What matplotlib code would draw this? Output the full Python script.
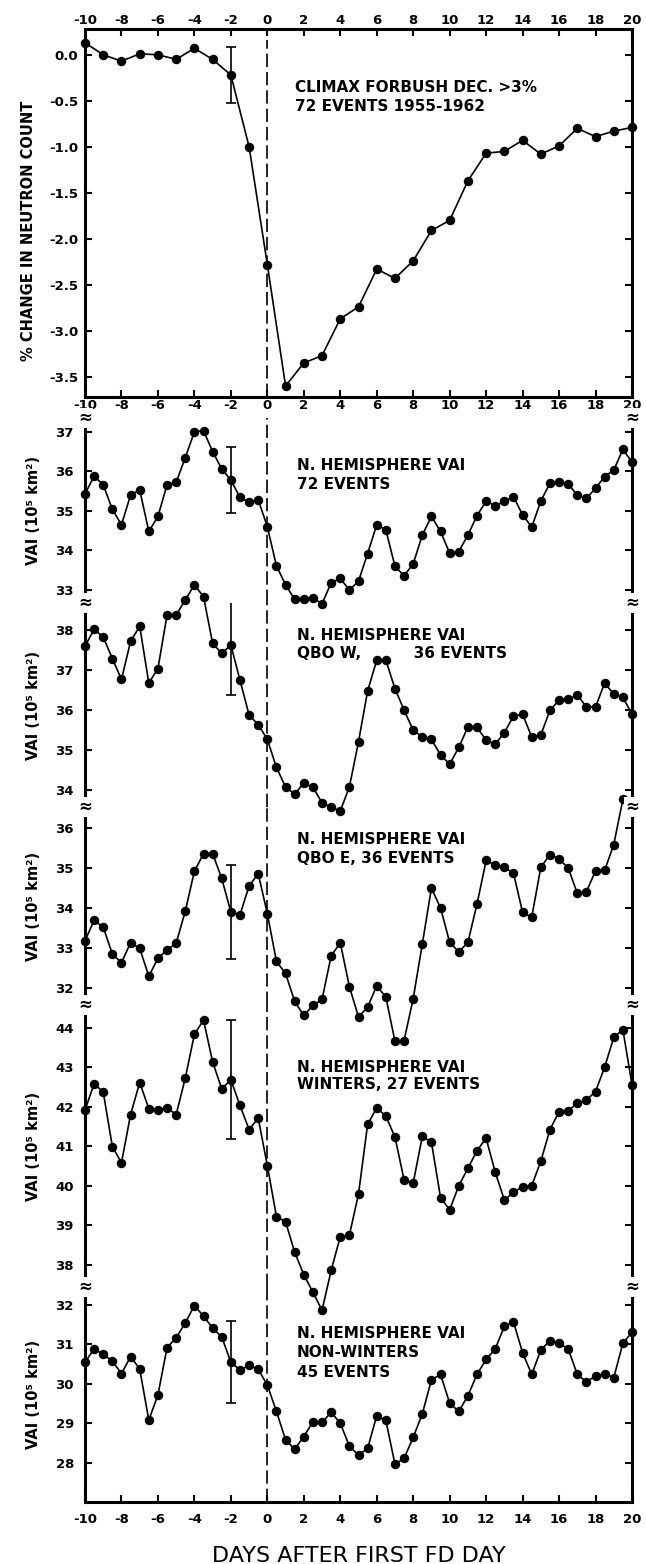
import matplotlib
matplotlib.use("Agg")
import matplotlib.pyplot as plt
import numpy as np

plt.rcParams['font.family'] = ['DejaVu Sans']
plt.rcParams['axes.unicode_minus'] = False

# ---------------- data ----------------
fd_days = list(range(-10, 21))
forbush = [0.13, 0.0, -0.07, 0.01, 0.0, -0.05, 0.07, -0.05, -0.22, -1.0,
           -2.28, -3.60, -3.35, -3.27, -2.87, -2.74, -2.33, -2.43, -2.24, -1.91,
           -1.80, -1.37, -1.07, -1.05, -0.93, -1.08, -0.99, -0.80, -0.89, -0.83, -0.79]
forbush_err = 0.30

half_days = [k / 2 for k in range(-20, 41)]

vai_all = [35.43, 35.88, 35.66, 35.04, 34.65, 35.40, 35.53, 34.48, 34.86, 35.66,
           35.72, 36.35, 37.00, 37.03, 36.50, 36.06, 35.78, 35.34, 35.22, 35.28, 34.60,
           33.61, 33.13, 32.76, 32.76, 32.80, 32.65, 33.18, 33.29, 33.00, 33.22,
           33.92, 34.65, 34.52, 33.60, 33.36, 33.66, 34.39, 34.86, 34.48, 33.93,
           33.97, 34.39, 34.88, 35.25, 35.13, 35.24, 35.36, 34.90, 34.59, 35.25,
           35.70, 35.74, 35.68, 35.40, 35.32, 35.57, 35.87, 36.03, 36.56, 36.23]
vai_qbow = [37.60, 38.02, 37.83, 37.29, 36.77, 37.72, 38.10, 36.68, 37.04, 38.38,
            38.38, 38.76, 39.13, 38.84, 37.67, 37.42, 37.63, 36.75, 35.88, 35.64, 35.27,
            34.57, 34.08, 33.90, 34.18, 34.07, 33.69, 33.57, 33.48, 34.08, 35.21,
            36.48, 37.25, 37.25, 36.54, 36.00, 35.50, 35.33, 35.27, 34.88, 34.65,
            35.07, 35.58, 35.57, 35.25, 35.15, 35.44, 35.85, 35.90, 35.33, 35.38,
            36.00, 36.25, 36.27, 36.38, 36.08, 36.08, 36.68, 36.40, 36.32, 35.90]
vai_qboe = [33.18, 33.69, 33.52, 32.85, 32.63, 33.13, 32.99, 32.29, 32.74, 32.95,
            33.12, 33.92, 34.92, 35.36, 35.36, 34.74, 33.90, 33.83, 34.55, 34.86, 33.86,
            32.66, 32.36, 31.66, 31.31, 31.56, 31.71, 32.80, 33.13, 32.03, 31.27,
            31.52, 32.05, 31.77, 30.66, 30.68, 31.73, 33.10, 34.50, 34.00, 33.14,
            32.90, 33.14, 34.10, 35.19, 35.08, 35.02, 34.87, 33.89, 33.77, 35.02,
            35.34, 35.23, 35.00, 34.37, 34.41, 34.93, 34.94, 35.59, 36.72, 36.45]
vai_winter = [41.91, 42.58, 42.37, 40.99, 40.58, 41.80, 42.61, 41.95, 41.91, 41.97,
              41.80, 42.72, 43.83, 44.19, 43.13, 42.45, 42.68, 42.03, 41.42, 41.71, 40.51,
              39.22, 39.09, 38.32, 37.75, 37.31, 36.85, 37.86, 38.71, 38.75, 39.79,
              41.55, 41.97, 41.76, 41.23, 40.15, 40.07, 41.25, 41.10, 39.70, 39.39,
              40.00, 40.44, 40.89, 41.20, 40.34, 39.64, 39.83, 39.98, 40.00, 40.62,
              41.42, 41.87, 41.90, 42.08, 42.17, 42.38, 43.00, 43.75, 43.95, 42.55]
vai_nonwinter = [30.55, 30.89, 30.75, 30.58, 30.26, 30.69, 30.38, 29.08, 29.72, 30.92,
                 31.17, 31.55, 31.99, 31.72, 31.42, 31.19, 30.55, 30.35, 30.47, 30.37, 29.97,
                 29.30, 28.58, 28.34, 28.66, 29.04, 29.02, 29.28, 29.00, 28.42, 28.19,
                 28.36, 29.19, 29.07, 27.96, 28.11, 28.64, 29.24, 30.10, 30.24, 29.51,
                 29.30, 29.70, 30.24, 30.62, 30.89, 31.46, 31.57, 30.79, 30.24, 30.86,
                 31.10, 31.03, 30.89, 30.24, 30.05, 30.20, 30.26, 30.16, 31.03, 31.31]

vai_errs = [0.84, 1.25, 1.18, 1.51, 1.04]
err_day = -2

x_ticks = list(range(-10, 21, 2))
fd_yticks = [0.0, -0.5, -1.0, -1.5, -2.0, -2.5, -3.0, -3.5]
panel_yticks = [[33, 34, 35, 36, 37], [34, 35, 36, 37, 38], [32, 33, 34, 35, 36],
                [38, 39, 40, 41, 42, 43, 44], [28, 29, 30, 31, 32]]
panel_ylims = [(32.67, 37.35), (33.58, 38.68), (31.57, 36.53), (37.44, 44.57), (27.0, 32.46)]
panel_texts = [
    [(36.16, 'N. HEMISPHERE VAI'), (35.67, '72 EVENTS')],
    [(37.87, 'N. HEMISPHERE VAI'), (37.43, 'QBO W,          36 EVENTS')],
    [(35.72, 'N. HEMISPHERE VAI'), (35.25, 'QBO E, 36 EVENTS')],
    [(43.00, 'N. HEMISPHERE VAI'), (42.57, 'WINTERS, 27 EVENTS')],
    [(31.28, 'N. HEMISPHERE VAI'), (30.80, 'NON-WINTERS'), (30.30, '45 EVENTS')],
]
panel_series = [vai_all, vai_qbow, vai_qboe, vai_winter, vai_nonwinter]
vai_label = 'VAI (10\u2075 km\u00b2)'

# ---------------- layout (pixels) ----------------
W, H = 646, 1564
L, R = 85, 632
top_box = (29, 397)
bounds = [418, 603, 807, 1005, 1287, 1502]

fig = plt.figure(figsize=(W / 100, H / 100), dpi=100)


def rect(top, bottom):
    return [L / W, 1 - bottom / H, (R - L) / W, (bottom - top) / H]


LW_LINE = 1.2
MS = 5.8
SPINE_W = 2.2
DASH = (0, (8, 3))
TICK_FS = 9.5
ANN_FS = 11


def bold_ticks(ax):
    for t in ax.xaxis.get_major_ticks() + ax.yaxis.get_major_ticks():
        t.label1.set_fontweight('bold')
        t.label2.set_fontweight('bold')


# ---------------- top panel ----------------
ax0 = fig.add_axes(rect(*top_box))
ax0.plot(fd_days, forbush, '-o', color='k', lw=LW_LINE, ms=MS, clip_on=False, zorder=3)
ax0.errorbar(err_day, forbush[fd_days.index(err_day)], yerr=forbush_err, fmt='none',
             ecolor='k', elinewidth=1.2, capsize=3.5, capthick=1.2)
ax0.axvline(0, ymin=0, ymax=(top_box[1] - 40) / (top_box[1] - top_box[0]),
            color='k', lw=1.2, ls=DASH)
ax0.set_xlim(-10, 20)
ax0.set_ylim(-3.72, 0.28)
ax0.set_xticks(x_ticks)
ax0.set_yticks(fd_yticks)
ax0.set_yticklabels(['%.1f' % v for v in fd_yticks])
ax0.tick_params(axis='both', direction='in', length=5, width=1.5, labelsize=TICK_FS,
                top=True, right=True)
ax0.tick_params(axis='x', labeltop=True, labelbottom=True, pad=1.5)
ax0.tick_params(axis='y', pad=5)
for s in ax0.spines.values():
    s.set_linewidth(SPINE_W)
bold_ticks(ax0)
ax0.text(1.5, -0.355, 'CLIMAX FORBUSH DEC. >3%', fontsize=ANN_FS, fontweight='bold',
         va='center', ha='left')
ax0.text(1.5, -0.56, '72 EVENTS 1955-1962', fontsize=ANN_FS, fontweight='bold',
         va='center', ha='left')
fig.text(29 / W, 1 - 231 / H, '% CHANGE IN NEUTRON COUNT', rotation=90, ha='center',
         va='center', fontsize=10.5, fontweight='bold')

# ---------------- VAI panels ----------------
n = len(panel_series)
for i in range(n):
    top, bot = bounds[i], bounds[i + 1]
    ax = fig.add_axes(rect(top, bot))
    ax.patch.set_visible(False)
    y = panel_series[i]
    ax.plot(half_days, y, '-o', color='k', lw=LW_LINE, ms=MS, clip_on=False, zorder=3)
    ax.errorbar(err_day, y[half_days.index(err_day)], yerr=vai_errs[i], fmt='none',
                ecolor='k', elinewidth=1.2, capsize=3.5, capthick=1.2)
    ax.axvline(0, color='k', lw=1.2, ls=DASH)
    ax.set_xlim(-10, 20)
    ax.set_ylim(*panel_ylims[i])
    ax.set_yticks(panel_yticks[i])
    ax.tick_params(axis='y', direction='in', length=5, width=1.5, labelsize=TICK_FS,
                   left=True, right=True, pad=8)
    ax.spines['top'].set_visible(False)
    for s in ax.spines.values():
        s.set_linewidth(SPINE_W)
    last = (i == n - 1)
    if last:
        ax.set_xticks(x_ticks)
        ax.tick_params(axis='x', direction='in', length=5, width=1.5, labelsize=TICK_FS,
                       bottom=True, top=False, labelbottom=True, pad=8)
        ax.set_xlabel('DAYS AFTER FIRST FD DAY', fontsize=16)
        ax.xaxis.set_label_coords(0.5, -(1556 - bot) / (bot - top))
        ax.xaxis.label.set_va('center')
    else:
        ax.spines['bottom'].set_visible(False)
        ax.tick_params(axis='x', bottom=False, top=False, labelbottom=False)
    bold_ticks(ax)
    for xa in (0, 1):
        ax.text(xa, 1, '\u2248', transform=ax.transAxes, ha='center', va='center',
                fontsize=12, fontweight='bold', zorder=5,
                bbox=dict(fc='white', ec='none', pad=0.5))
    for yv, s in panel_texts[i]:
        ax.text(1.6, yv, s, fontsize=ANN_FS, fontweight='bold', va='center', ha='left')
    fig.text(33 / W, 1 - (top + bot) / 2 / H, vai_label, rotation=90, ha='center',
             va='center', fontsize=10.5, fontweight='bold')

fig.savefig('out.png', dpi=100)
